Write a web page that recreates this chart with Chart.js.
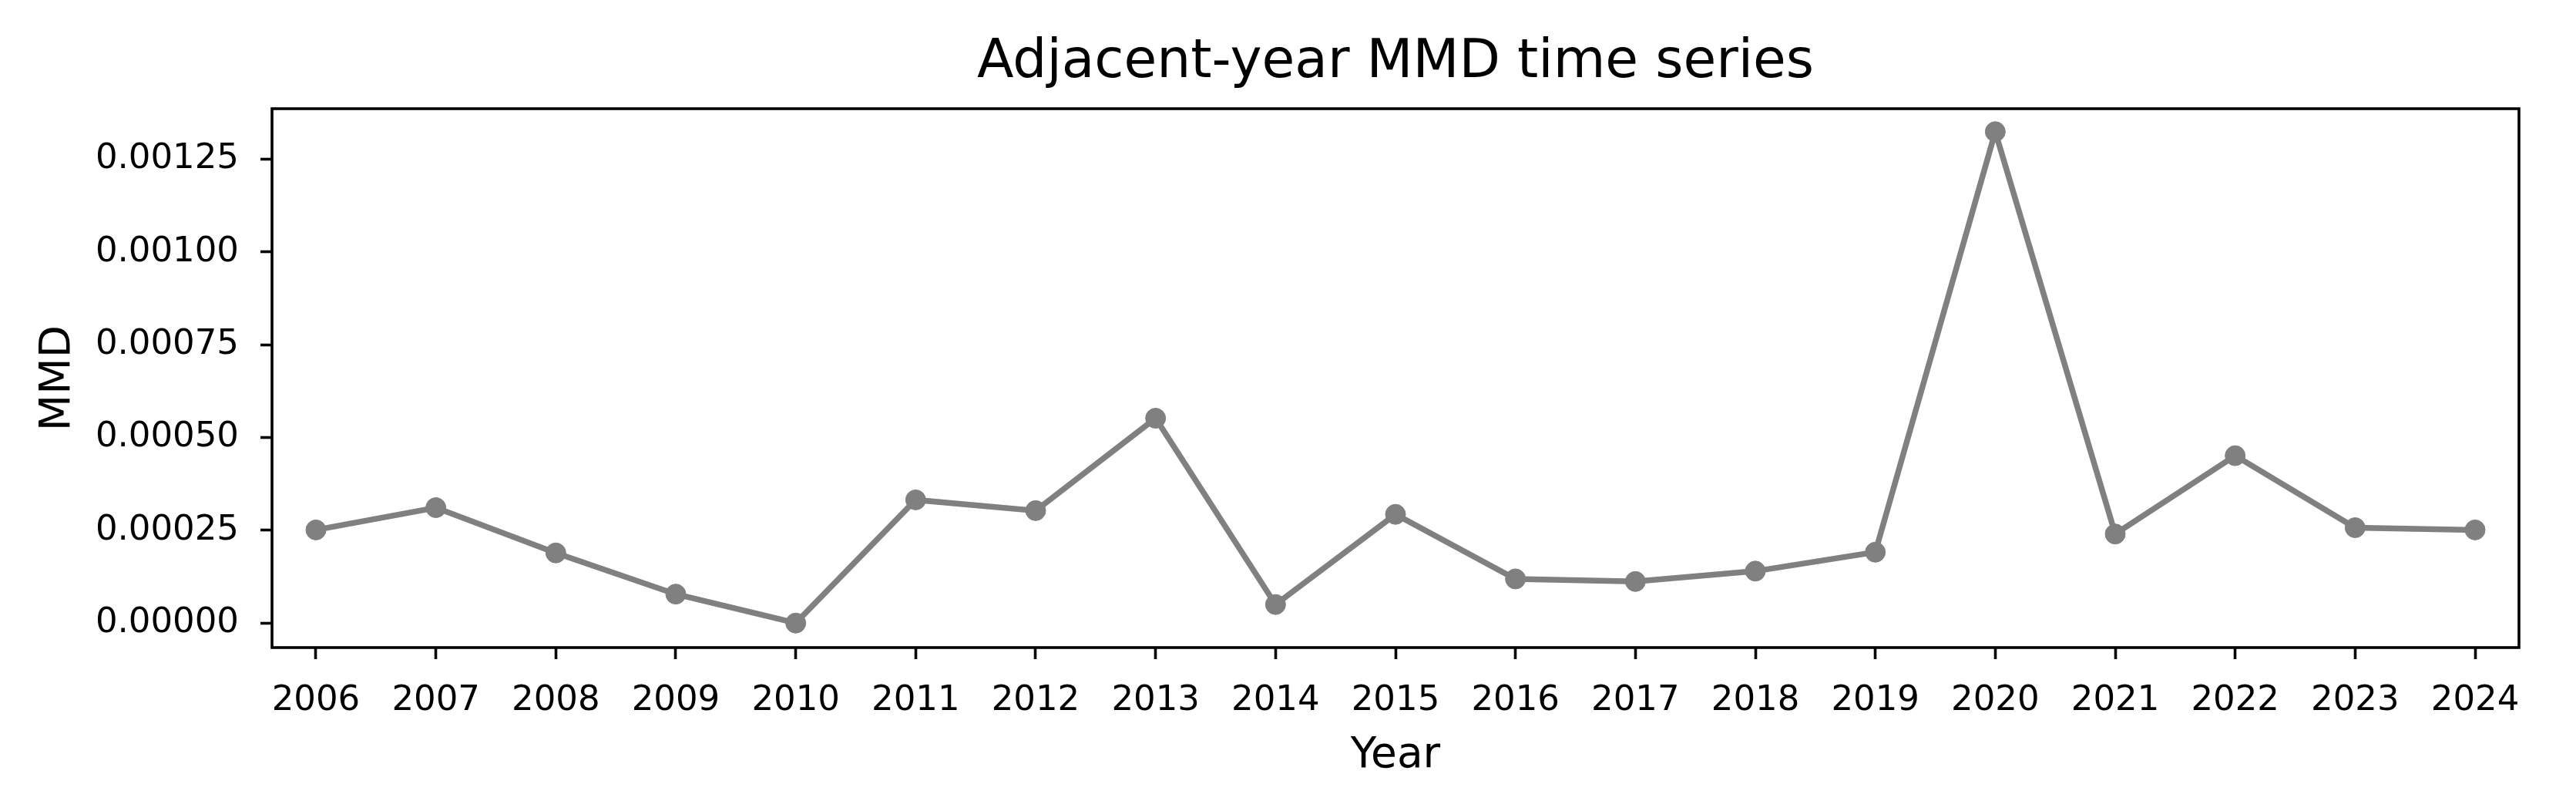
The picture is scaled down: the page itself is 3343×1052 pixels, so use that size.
<!DOCTYPE html>
<html>
<head>
<meta charset="utf-8">
<script src="https://cdn.jsdelivr.net/npm/chart.js@4.4.1/dist/chart.umd.min.js"></script>
<style>
  html, body { margin: 0; padding: 0; background: #fff; }
  canvas { display: block; }
</style>
</head>
<body>
<canvas id="mmdChart" width="3343" height="1052"></canvas>
<script>
// data
const years = [2006, 2007, 2008, 2009, 2010, 2011, 2012, 2013, 2014, 2015,
               2016, 2017, 2018, 2019, 2020, 2021, 2022, 2023, 2024];
const mmd = [0.000251, 0.000311, 0.000189, 0.000078, 0.000000, 0.000332, 0.000303,
             0.000552, 0.000050, 0.000293, 0.000119, 0.000112, 0.000140, 0.000191,
             0.001324, 0.000240, 0.000451, 0.000257, 0.000251];
const yTicks = [0, 0.00025, 0.0005, 0.00075, 0.001, 0.00125];

const FONT = "'DejaVu Sans', sans-serif";

// box around the plot area like matplotlib spines
const frame = {
    id: 'frame',
    afterDraw(chart) {
        const { ctx, chartArea: a } = chart;
        ctx.save();
        ctx.strokeStyle = '#000';
        ctx.lineWidth = 3.6;
        ctx.strokeRect(a.left, a.top, a.right - a.left, a.bottom - a.top);
        ctx.restore();
    }
};

const data = {
    datasets: [
        {
            label: 'MMD',
            data: years.map((y, i) => ({ x: y, y: mmd[i] })),
            borderColor: '#808080',
            backgroundColor: '#808080',
            borderWidth: 7.5,
            pointRadius: 13,
            pointBorderWidth: 1,
            pointBackgroundColor: '#808080',
            pointBorderColor: '#808080',
            tension: 0
        }
    ]
};

const config = {
    type: 'line',
    data: data,
    options: {
        responsive: false,
        devicePixelRatio: 1,
        animation: false,
        layout: {
            padding: { left: 0, right: 74, top: 0, bottom: 0 }
        },
        plugins: {
            legend: { display: false },
            tooltip: { enabled: false },
            title: {
                display: true,
                text: 'Adjacent-year MMD time series',
                fullSize: false,
                color: '#000',
                font: { family: FONT, size: 69.5, weight: 'normal', lineHeight: 1.2 },
                padding: { top: 40, bottom: 17.6 }
            }
        },
        scales: {
            x: {
                type: 'linear',
                min: 2005.634,
                max: 2024.366,
                afterBuildTicks: scale => { scale.ticks = years.map(v => ({ value: v })); },
                afterFit: scale => { scale.height = 212; },
                border: { display: false },
                grid: {
                    display: true,
                    drawOnChartArea: false,
                    drawTicks: true,
                    tickLength: 15,
                    tickWidth: 3.6,
                    tickColor: '#000'
                },
                ticks: {
                    color: '#000',
                    font: { family: FONT, size: 45 },
                    padding: 27,
                    maxRotation: 0,
                    autoSkip: false,
                    callback: v => String(v)
                },
                title: {
                    display: true,
                    text: 'Year',
                    color: '#000',
                    font: { family: FONT, size: 55, lineHeight: 1.2 },
                    padding: { top: 0, bottom: 38 }
                }
            },
            y: {
                min: -0.000066,
                max: 0.001386,
                afterBuildTicks: scale => { scale.ticks = yTicks.map(v => ({ value: v })); },
                afterFit: scale => { scale.width = 353; },
                border: { display: false },
                grid: {
                    display: true,
                    drawOnChartArea: false,
                    drawTicks: true,
                    tickLength: 15,
                    tickWidth: 3.6,
                    tickColor: '#000'
                },
                ticks: {
                    color: '#000',
                    font: { family: FONT, size: 45 },
                    padding: 28,
                    callback: v => v.toFixed(5)
                },
                title: {
                    display: true,
                    text: 'MMD',
                    color: '#000',
                    font: { family: FONT, size: 55, lineHeight: 1.2 },
                    padding: { top: 43, bottom: 0 }
                }
            }
        }
    },
    plugins: [frame]
};

const chart = new Chart(document.getElementById('mmdChart'), config);
</script>
</body>
</html>
